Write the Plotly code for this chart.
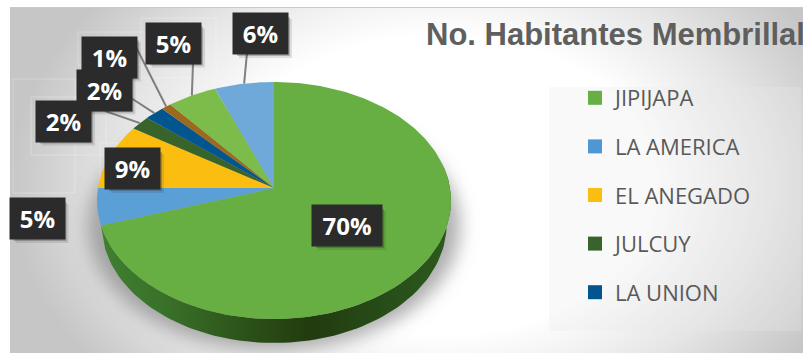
import math
import urllib.parse
import plotly.graph_objects as go

TITLE = "No. Habitantes Membrillal"
LEGEND_NAMES = ["JIPIJAPA", "LA AMERICA", "EL ANEGADO", "JULCUY", "LA UNION"]
VALUES = [70, 5, 9, 2, 2, 1, 5, 6]
COLORS = ["#67ae43", "#5a9fd6", "#fbbd10", "#38632b", "#03558f", "#9c6a1f", "#7cbc4a", "#6fa9da"]
LEGEND_COLORS = ["#67ae43", "#4e97d4", "#fbbd10", "#38632b", "#03558f"]

# label box centres (px) in slice order; draw order puts overlapping ones correctly
LABEL_POS = [(347, 225.5), (37, 218.5), (132.5, 168.5), (63.5, 121), (104, 90), (109.5, 57), (173.5, 43), (260.5, 33.5)]
LEADER_FROM = [None, None, None, (105, 111), (131, 98), (136, 47), (193, 63), (247, 53)]
DRAW_ORDER = [0, 1, 2, 3, 4, 5, 6, 7]

CX, CY, A, B, K, DEPTH = 274, 188, 176, 117.2, 0.1055, 24
LOWER_RIM_SCALE = 0.975


def rim(pct):
    th = 2 * math.pi * pct / 100
    s, c = math.sin(th), math.cos(th)
    d = 1 + K * c
    return CX + A * s / d, CY - B * c / d


fig = go.Figure()

# side wall of the disc (visible front part: from right side round to the left)
start, stop = 22.0, 70.0
n = 90
pcts = [start + (stop - start) * i / n for i in range(n + 1)]
top = [rim(p) for p in pcts]
fig.add_trace(go.Scatter(
    x=[p[0] for p in top] + [CX + (p[0] - CX) * LOWER_RIM_SCALE for p in reversed(top)],
    y=[p[1] for p in top] + [p[1] + DEPTH for p in reversed(top)],
    mode="lines", line=dict(width=0), fill="toself", showlegend=False, hoverinfo="skip",
    fillgradient=dict(type="horizontal", colorscale=[
        [0, "#3f8030"], [0.2, "#386f28"], [0.45, "#2a4d16"], [0.6, "#223b10"], [0.85, "#28501a"], [1, "#2c5a1c"]]),
))

# slices
cum = 0
names = LEGEND_NAMES + ["", "", ""]
spans = []
for v, col, nm in zip(VALUES, COLORS, names):
    m = max(2, v * 3)
    pts = [rim(cum + v * i / m) for i in range(m + 1)]
    fig.add_trace(go.Scatter(
        x=[CX] + [p[0] for p in pts] + [CX],
        y=[CY] + [p[1] for p in pts] + [CY],
        mode="lines", line=dict(width=0, color=col), fill="toself", fillcolor=col,
        name=nm or "otro", showlegend=False, hoverinfo="name",
    ))
    spans.append(cum + v / 2)
    cum += v

# leader lines
for frm, mid in zip(LEADER_FROM, spans):
    if frm is None:
        continue
    tip = rim(mid)
    fig.add_trace(go.Scatter(x=[frm[0], tip[0]], y=[frm[1], tip[1]], mode="lines",
                             line=dict(color="#7f7f7f", width=2), showlegend=False, hoverinfo="skip"))

# legend entries
for i, (nm, col) in enumerate(zip(LEGEND_NAMES, LEGEND_COLORS)):
    fig.add_trace(go.Scatter(x=[None], y=[None], mode="markers", name=nm, legendgroup=nm,
                             marker=dict(symbol="square", size=14, color=col)))

shapes = []
annotations = []
for i in DRAW_ORDER:
    x, y = LABEL_POS[i]
    w = 68 if VALUES[i] >= 10 else 53
    h = 39
    for off, alpha in ((5, 0.12), (3, 0.25)):
        shapes.append(dict(type="rect", layer="above", x0=x - w / 2 + off, x1=x + w / 2 + off,
                           y0=y - h / 2 + off, y1=y + h / 2 + off,
                           fillcolor=f"rgba(30,30,30,{alpha})", line=dict(width=0)))
    annotations.append(dict(x=x, y=y, xref="x", yref="y", text=f"<b>{VALUES[i]}%</b>", showarrow=False,
                            width=w, height=h, bgcolor="#2b2b2b", align="center", valign="middle",
                            font=dict(family="Open Sans", size=24, color="#ffffff")))

# faint leftover frames
for x0, y0, x1, y1, in [(100, 143, 175, 202), (31, 97, 106, 155), (13, 79, 75, 193), (78, 32, 153, 65), (141, 18, 216, 78)]:
    shapes.append(dict(type="rect", layer="below", x0=x0, y0=y0, x1=x1, y1=y1,
                       line=dict(color="rgba(255,255,255,0.28)", width=1)))
shapes.append(dict(type="rect", layer="below", x0=549, y0=87, x1=801, y1=331,
                   fillcolor="rgba(235,235,235,0.28)", line=dict(width=0)))

bg_svg = """<svg xmlns='http://www.w3.org/2000/svg' width='803' height='353' viewBox='0 0 803 353'>
<defs><radialGradient id='g' gradientUnits='userSpaceOnUse' cx='0' cy='0' r='1' gradientTransform='translate(440 185) scale(430 300)'>
<stop offset='0' stop-color='#ffffff'/><stop offset='0.5' stop-color='#ffffff'/><stop offset='0.75' stop-color='#e6e6e6'/><stop offset='1' stop-color='#c6c6c6'/></radialGradient>
<filter id='b' x='-20%' y='-20%' width='140%' height='140%'><feGaussianBlur stdDeviation='9'/></filter></defs>
<rect width='803' height='353' fill='#ffffff'/>
<rect x='10' y='7' width='793' height='346' fill='url(#g)'/>
<rect x='10' y='7' width='793' height='1' fill='#c9c9c9'/>
<ellipse cx='274' cy='226' rx='186' ry='124' fill='#7d7d7d' fill-opacity='0.62' filter='url(#b)'/>
</svg>"""
bg_uri = "data:image/svg+xml;charset=utf-8," + urllib.parse.quote(bg_svg)

fig.update_layout(
    width=803, height=353, margin=dict(l=0, r=0, t=0, b=0),
    paper_bgcolor="#ffffff", plot_bgcolor="rgba(0,0,0,0)",
    xaxis=dict(range=[0, 803], visible=False, fixedrange=True),
    yaxis=dict(range=[353, 0], visible=False, fixedrange=True),
    images=[dict(source=bg_uri, xref="paper", yref="paper", x=0, y=1, sizex=1, sizey=1,
                 xanchor="left", yanchor="top", sizing="stretch", layer="below")],
    title=dict(text=f"<b>{TITLE}</b>", x=426 / 803, xanchor="left", xref="paper",
               y=1 - 34 / 353, yanchor="middle", yref="paper",
               font=dict(family="Liberation Sans", size=31, color="#5f5f5f")),
    legend=dict(x=575 / 803, y=1 - 77 / 353, xanchor="left", yanchor="top", bgcolor="rgba(0,0,0,0)",
                font=dict(family="Open Sans", size=22, color="#595959"), tracegroupgap=17,
                itemwidth=30, itemclick=False, itemdoubleclick=False),
    shapes=shapes, annotations=annotations, showlegend=True,
)

fig.write_html("out.html", config=dict(displayModeBar=False), post_script="document.body.style.margin='0';")
